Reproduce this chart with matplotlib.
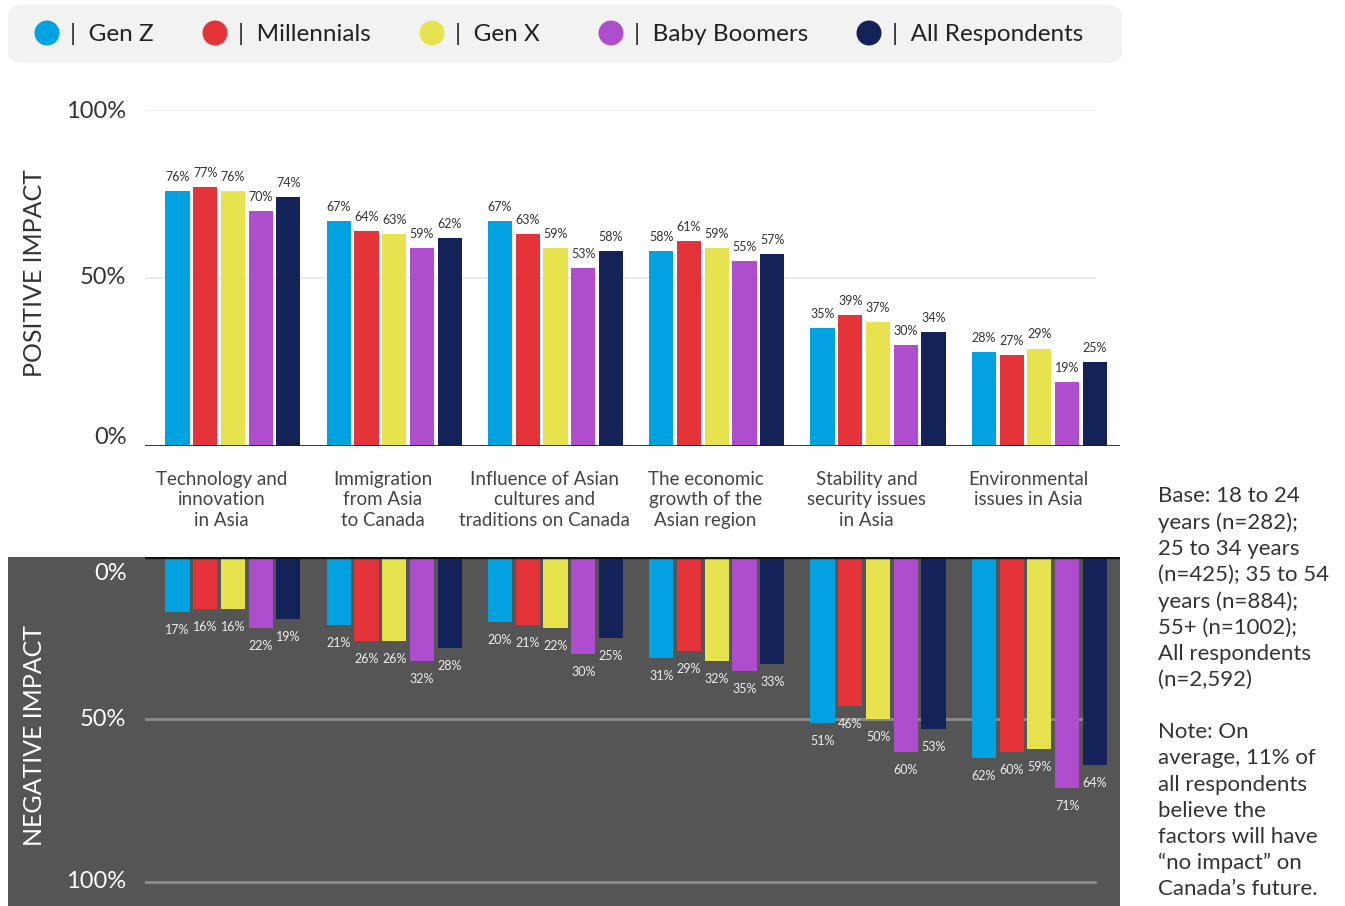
import matplotlib
matplotlib.use("Agg")
import matplotlib.pyplot as plt
from matplotlib.patches import FancyBboxPatch, Rectangle, Ellipse
import numpy as np

plt.rcParams['font.family'] = ['Lato', 'DejaVu Sans']

categories = ["Technology and\ninnovation\nin Asia",
              "Immigration\nfrom Asia\nto Canada",
              "Influence of Asian\ncultures and\ntraditions on Canada",
              "The economic\ngrowth of the\nAsian region",
              "Stability and\nsecurity issues\nin Asia",
              "Environmental\nissues in Asia"]
series = ["Gen Z", "Millennials", "Gen X", "Baby Boomers", "All Respondents"]
colors = ["#00A3E0", "#E5333A", "#E6E34E", "#AE4ECF", "#14225A"]

positive = {
    "Gen Z":           [76, 67, 67, 58, 35, 28],
    "Millennials":     [77, 64, 63, 61, 39, 27],
    "Gen X":           [76, 63, 59, 59, 37, 29],
    "Baby Boomers":    [70, 59, 53, 55, 30, 19],
    "All Respondents": [74, 62, 58, 57, 34, 25],
}
negative = {
    "Gen Z":           [17, 21, 20, 31, 51, 62],
    "Millennials":     [16, 26, 21, 29, 46, 60],
    "Gen X":           [16, 26, 22, 32, 50, 59],
    "Baby Boomers":    [22, 32, 30, 35, 60, 71],
    "All Respondents": [19, 28, 25, 33, 53, 64],
}
note_text = ("Base: 18 to 24\nyears (n=282);\n25 to 34 years\n(n=425); 35 to 54\n"
             "years (n=884);\n55+ (n=1002);\nAll respondents\n(n=2,592)\n\n"
             "Note: On\naverage, 11% of\nall respondents\nbelieve the\nfactors will have\n"
             "\u201cno impact\u201d on\nCanada\u2019s future.")

W, H = 1345, 906
fig = plt.figure(figsize=(W / 100, H / 100), dpi=100)
fig.patch.set_facecolor("white")

def fx(px): return px / W
def fy(py): return 1 - py / H

# dark background for negative panel
fig.add_artist(Rectangle((fx(8), 0), fx(1120) - fx(8), fy(557), transform=fig.transFigure,
                         facecolor="#555555", edgecolor="none", zorder=0))

# legend box
fig.add_artist(FancyBboxPatch((fx(8), fy(63)), fx(1122) - fx(8), fy(5) - fy(63),
                              boxstyle="round,pad=0,rounding_size=0.012",
                              transform=fig.transFigure, facecolor="#F2F2F2",
                              edgecolor="none", zorder=0))
leg_x = [47, 215, 432, 611, 869]
for x, s, c in zip(leg_x, series, colors):
    fig.add_artist(Ellipse((fx(x), fy(33)), 25 / W, 25 / H, transform=fig.transFigure,
                           facecolor=c, edgecolor="none"))
    fig.text(fx(x + 23), fy(34), "|  " + s, fontsize=17.5, color="#222222", va="center", ha="left")

x = np.arange(len(categories))
bw = 0.15
step = 0.172
offsets = (np.arange(len(series)) - 2) * step
xlim = (-0.545, 5.5)

left, width = fx(145), fx(1120) - fx(145)
ax1 = fig.add_axes([left, fy(446), width, fy(110) - fy(446)])
ax2 = fig.add_axes([left, 0, width, fy(557)])

for ax in (ax1, ax2):
    ax.set_xlim(*xlim)
    ax.set_facecolor("none")
    for sp in ax.spines.values():
        sp.set_visible(False)
    ax.set_xticks([])
    ax.set_yticks([])

ax1.set_ylim(0, 100)
ax2.set_ylim(107.4, 0)

gx = (1095 - 145) / (1120 - 145)
for v in (50, 100):
    ax1.axhline(v, xmin=0, xmax=gx, color="#EBEBEB", lw=1.5, zorder=0)
    ax2.axhline(v, xmin=0, xmax=gx, color="#8C8C8C", lw=2, zorder=0)
ax1.axhline(0, color="#222222", lw=2, zorder=3)
ax2.axhline(0, color="#111111", lw=2.5, zorder=3)

for i, (s, c) in enumerate(zip(series, colors)):
    pv = positive[s]
    nv = negative[s]
    ax1.bar(x + offsets[i], pv, width=bw, color=c, zorder=2)
    ax2.bar(x + offsets[i], nv, width=bw, color=c, zorder=2)
    for xi, v in zip(x + offsets[i], pv):
        ax1.text(xi, v + 4.2, f"{v}%", ha="center", va="center", fontsize=9, color="#333333")
    for xi, v in zip(x + offsets[i], nv):
        ax2.text(xi, v + 5.5, f"{v}%", ha="center", va="center", fontsize=9, color="#EEEEEE")

# y tick labels
tr1 = ax1.get_yaxis_transform()
for v, lab, dy in ((100, "100%", -0.5), (50, "50%", 0), (0, "0%", 2.4)):
    ax1.text(-0.019, v + dy, lab, transform=tr1, ha="right", va="center", fontsize=17, color="#333333")
tr2 = ax2.get_yaxis_transform()
for v, lab, dy in ((0, "0%", 5), (50, "50%", 0), (100, "100%", 0)):
    ax2.text(-0.019, v + dy, lab, transform=tr2, ha="right", va="center", fontsize=17, color="#FFFFFF")

# category labels
trc = ax1.get_xaxis_transform()
for xi, lab in zip(x, categories):
    ax1.text(xi - 0.07, -0.073, lab, transform=trc, ha="center", va="top",
             fontsize=13.5, color="#444444", linespacing=1.27)

fig.text(fx(35), fy(273), "POSITIVE IMPACT", rotation=90, ha="center", va="center",
         fontsize=18, color="#333333")
fig.text(fx(35), fy(736), "NEGATIVE IMPACT", rotation=90, ha="center", va="center",
         fontsize=18, color="#FFFFFF")

fig.text(fx(1158), fy(486), note_text, ha="left", va="top", fontsize=16,
         color="#333333", linespacing=1.38)

fig.savefig("out.png", dpi=100)
